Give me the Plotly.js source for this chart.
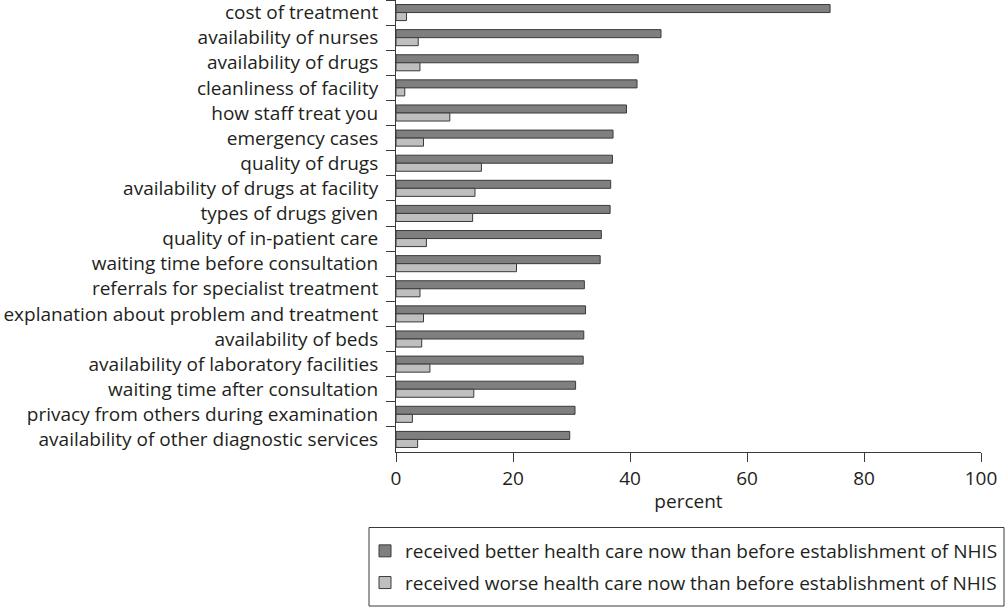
<!DOCTYPE html>
<html>
<head>
<meta charset="utf-8">
<script src="https://cdn.plot.ly/plotly-3.0.1.min.js"></script>
<style>html,body{margin:0;padding:0;background:#fff}#chart{width:1005px;height:608px}</style>
</head>
<body>
<div id="chart"></div>
<script>
const categories = [
  "cost of treatment",
  "availability of nurses",
  "availability of drugs",
  "cleanliness of facility",
  "how staff treat you",
  "emergency cases",
  "quality of drugs",
  "availability of drugs at facility",
  "types of drugs given",
  "quality of in-patient care",
  "waiting time before consultation",
  "referrals for specialist treatment",
  "explanation about problem and treatment",
  "availability of beds",
  "availability of laboratory facilities",
  "waiting time after consultation",
  "privacy from others during examination",
  "availability of other diagnostic services"
];
const betterValues = [74.2, 45.3, 41.4, 41.2, 39.4, 37.1, 37.0, 36.7, 36.6, 35.1, 34.9, 32.2, 32.4, 32.1, 32.0, 30.7, 30.6, 29.7];
const worseValues  = [1.8, 3.8, 4.1, 1.5, 9.2, 4.7, 14.6, 13.5, 13.1, 5.2, 20.6, 4.1, 4.7, 4.4, 5.8, 13.3, 2.8, 3.7];
const seriesNames = [
  "received better health care now than before establishment of NHIS",
  "received worse health care now than before establishment of NHIS"
];
const xTickValues = [0, 20, 40, 60, 80, 100];
const xTitle = "percent";

const FONT = "'Open Sans', 'Noto Sans', sans-serif";
const FS = 19;
const TXT = "#231f20";
const EDGE = "#3a3a3a";

const traces = [
  {type: "bar", orientation: "h", name: seriesNames[0], y: categories, x: betterValues,
   legendgroup: "a",
   marker: {color: "#7f7f7f", line: {color: EDGE, width: 1}}, hoverinfo: "x+y"},
  {type: "bar", orientation: "h", name: seriesNames[1], y: categories, x: worseValues,
   legendgroup: "b",
   marker: {color: "#bfbfbf", line: {color: EDGE, width: 1}}, hoverinfo: "x+y"}
];

const L = 396, R = 981, T = 0, B = 452;
const px = p => (p - L) / (R - L);
const py = p => (B - p) / (B - T);

const layout = {
  width: 1005, height: 608,
  margin: {l: L, r: 1005 - R, t: T, b: 608 - B, autoexpand: false},
  paper_bgcolor: "#fff", plot_bgcolor: "#fff",
  font: {family: FONT, color: TXT, size: FS},
  barmode: "group", bargap: 0.36, bargroupgap: 0,
  showlegend: true,
  xaxis: {
    range: [0, 100], tickvals: xTickValues, ticktext: xTickValues.map(String),
    showgrid: false, zeroline: false, showline: true, linecolor: EDGE, linewidth: 1,
    ticks: "outside", ticklen: 9, tickcolor: EDGE, tickwidth: 1,
    tickfont: {family: FONT, size: FS, color: TXT},
    ticklabelstandoff: 0,
    title: {text: xTitle, font: {family: FONT, size: FS, color: TXT}, standoff: 4},
    fixedrange: true
  },
  yaxis: {
    autorange: "reversed", type: "category",
    showgrid: false, zeroline: false, showline: true, linecolor: EDGE, linewidth: 1,
    ticks: "outside", tickson: "boundaries", ticklen: 9, tickcolor: EDGE, tickwidth: 1,
    tickfont: {family: FONT, size: FS, color: TXT},
    ticklabelstandoff: 13,
    fixedrange: true
  },
  legend: {
    x: px(365), y: py(532), xanchor: "left", yanchor: "top",
    bgcolor: "rgba(0,0,0,0)", borderwidth: 0,
    font: {family: FONT, size: FS, color: TXT},
    tracegroupgap: 4, traceorder: "grouped"
  },
  shapes: [
    {type: "rect", xref: "paper", yref: "paper", x0: px(369), x1: px(1004), y0: py(606), y1: py(527.5),
     line: {color: EDGE, width: 1}, fillcolor: "rgba(0,0,0,0)", layer: "below"}
  ]
};

Plotly.newPlot("chart", traces, layout, {displayModeBar: false, staticPlot: true});
</script>
</body>
</html>
